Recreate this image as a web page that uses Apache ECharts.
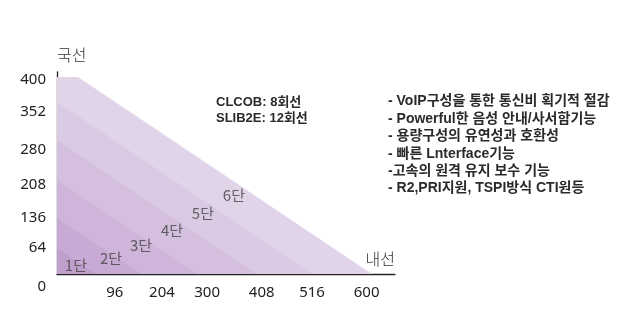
<!DOCTYPE html>
<html>
<head>
<meta charset="utf-8">
<script src="https://cdn.jsdelivr.net/npm/echarts@6/dist/echarts.min.js"></script>
<style>
html,body{margin:0;padding:0;background:#fff;}
#c{width:620px;height:330px;}
</style>
</head>
<body>
<div id="c"></div>
<script>
// ---- data (chart units) ----
var tierNames   = ['6단', '5단', '4단', '3단', '2단', '1단'];
// boundary of each tier: a line from (0, yIntercept) to (xIntercept, 0)
var yIntercepts = [400, 349, 272, 191, 114, 53];
var xIntercepts = [600, 489, 381, 267, 160, 74];
var outerFlatEnd = 40;           // outer tier has a flat top from x=0 to here
var tierLabelX  = [337, 278, 219, 160, 103, 36];
var tierLabelY  = [160, 124, 89, 59, 32, 18];
var tierColors  = ['#e1d4e9', '#dacae3', '#d4c0de', '#ceb5d9', '#c8abd4', '#c19fcc'];

var xTickLabels = ['96', '204', '300', '408', '516', '600'];
var xTickValues = [110, 200, 286, 390, 486, 590];
var yTickLabels = ['0', '64', '136', '208', '280', '352', '400'];
var yTickValues = [0, 53, 114, 181, 252, 329, 394];

var infoLeft  = ['CLCOB: 8회선', 'SLIB2E: 12회선'];
var infoRight = ['- VoIP구성을 통한 통신비 획기적 절감',
                 '- Powerful한 음성 안내/사서함기능',
                 '- 용량구성의 유연성과 호환성',
                 '- 빠른 Lnterface기능',
                 '-고속의 원격 유지 보수 기능',
                 '- R2,PRI지원, TSPI방식 CTI원등'];

function lookup(vals, labels, v) {
  var best = 0, bd = Infinity;
  for (var i = 0; i < vals.length; i++) {
    var d = Math.abs(vals[i] - v);
    if (d < bd) { bd = d; best = i; }
  }
  return labels[best];
}

var series = [];
for (var i = 0; i < tierNames.length; i++) {
  var d = i === 0
    ? [[0, yIntercepts[i]], [outerFlatEnd, yIntercepts[i]], [xIntercepts[i], 0]]
    : [[0, yIntercepts[i]], [xIntercepts[i], 0]];
  series.push({
    type: 'line', name: tierNames[i], data: d, symbol: 'none',
    lineStyle: { width: 0, opacity: 0 },
    areaStyle: { color: tierColors[i], opacity: 1 },
    silent: true, z: 2 + i
  });
}
var labelData = [];
for (var j = 0; j < tierNames.length; j++) {
  labelData.push({ name: tierNames[j], value: [tierLabelX[j], tierLabelY[j]] });
}
series.push({
  type: 'scatter', data: labelData, symbolSize: 0, silent: true, z: 20,
  label: {
    show: true, position: 'inside', formatter: '{b}',
    color: '#444', fontSize: 15,
    fontFamily: "'Noto Sans CJK KR', sans-serif", fontWeight: 'normal'
  }
});

var tickFont = "'Noto Sans', 'DejaVu Sans', sans-serif";
var tickWeight = 'normal condensed';
var textFont = "'Liberation Sans', 'Noto Sans CJK KR', sans-serif";

var graphics = [];
infoLeft.forEach(function (t, k) {
  graphics.push({ type: 'text', style: { x: 216, y: 102 + k * 16.5, text: t, fill: '#2a2a2a',
    font: 'bold 13px ' + textFont, textVerticalAlign: 'middle', verticalAlign: 'middle' } });
});
infoRight.forEach(function (t, k) {
  graphics.push({ type: 'text', style: { x: 388, y: 101.5 + k * 17.4, text: t, fill: '#2a2a2a',
    font: 'bold 14px ' + textFont, textVerticalAlign: 'middle', verticalAlign: 'middle' } });
});

var chart = echarts.init(document.getElementById('c'), null, { renderer: 'canvas' });
chart.setOption({
  animation: false,
  backgroundColor: '#fff',
  grid: { left: 57, right: 225, top: 72, bottom: 56, containLabel: false },
  xAxis: {
    type: 'value', min: 0, max: 644,
    splitLine: { show: false }, axisTick: { show: false },
    axisLine: { show: true, lineStyle: { color: '#222', width: 1.3 } },
    axisLabel: {
      customValues: xTickValues, margin: 11,
      color: '#222', fontSize: 15, fontFamily: tickFont, fontWeight: tickWeight,
      formatter: function (v) { return lookup(xTickValues, xTickLabels, v); }
    },
    name: '내선', nameLocation: 'end', nameGap: 0,
    nameTextStyle: { align: 'right', verticalAlign: 'bottom', padding: [0, 0, 7, 0],
      color: '#333', fontSize: 16, fontFamily: "'Noto Sans CJK KR', sans-serif", fontWeight: 300 }
  },
  yAxis: {
    type: 'value', min: 0, max: 410,
    splitLine: { show: false }, axisTick: { show: false },
    axisLine: { show: true, lineStyle: { color: '#222', width: 1.3 } },
    axisLabel: {
      customValues: yTickValues, margin: 11,
      color: '#222', fontSize: 15, fontFamily: tickFont, fontWeight: tickWeight,
      formatter: function (v) {
        var s = lookup(yTickValues, yTickLabels, v);
        return s === '0' ? '{z|0}' : s;
      },
      rich: { z: { padding: [26, 0, 0, 0], fontSize: 15, fontFamily: tickFont, fontWeight: tickWeight, color: '#222' } }
    },
    name: '국선', nameLocation: 'end', nameGap: 9,
    nameTextStyle: { align: 'left', color: '#333', fontSize: 16,
      fontFamily: "'Noto Sans CJK KR', sans-serif", fontWeight: 300 }
  },
  graphic: graphics,
  series: series
});
</script>
</body>
</html>
